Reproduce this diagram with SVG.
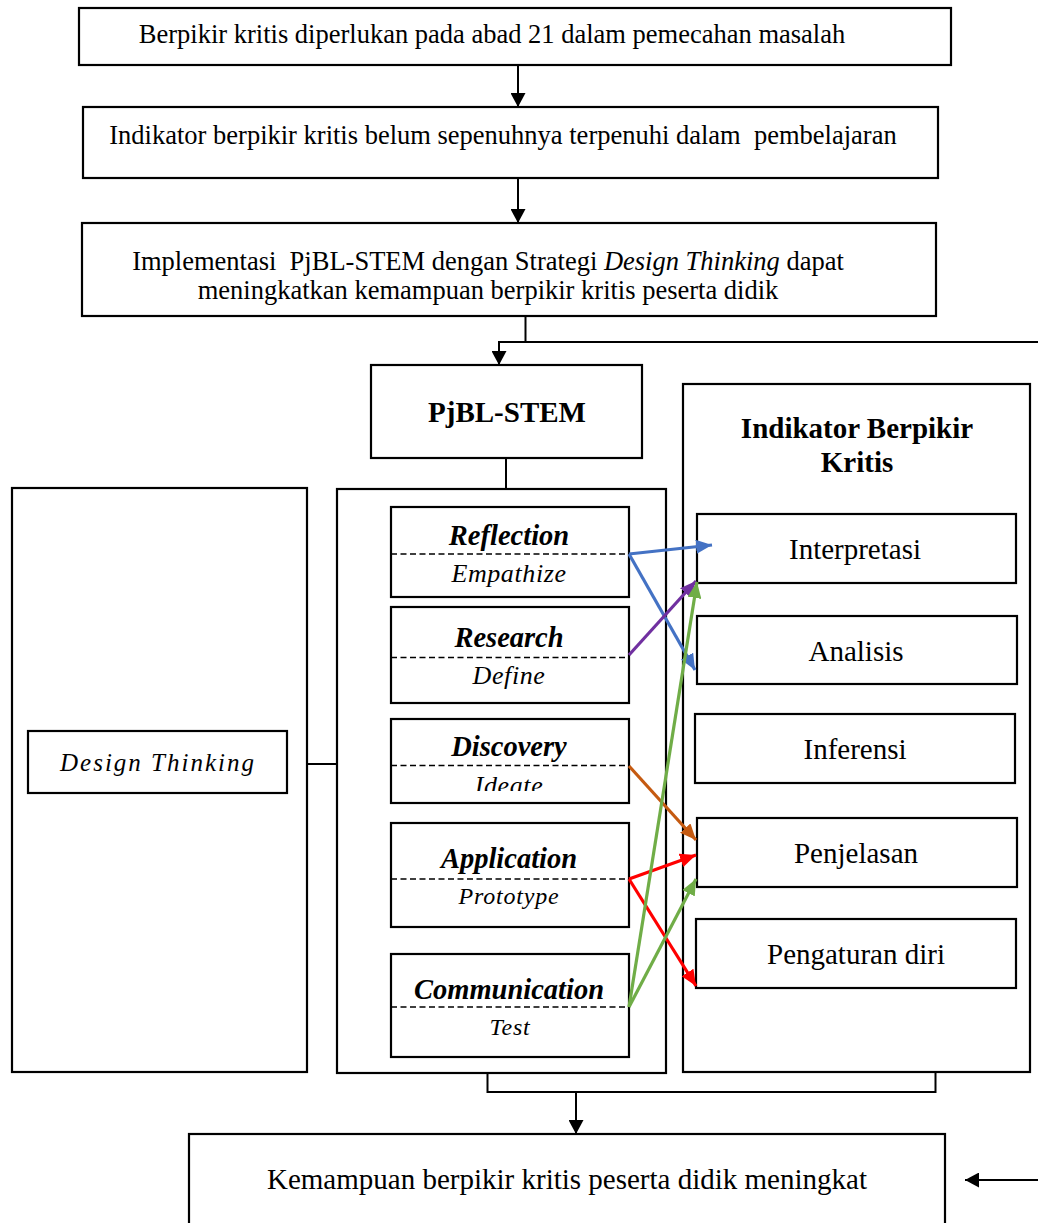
<svg xmlns="http://www.w3.org/2000/svg" width="1038" height="1223" viewBox="0 0 1038 1223">
<style>
.box{fill:#fff;stroke:#000;stroke-width:2.2}
.ln{fill:none;stroke:#000;stroke-width:2}
.dash{fill:none;stroke:#000;stroke-width:1.5;stroke-dasharray:6 3.5}
.t{font-family:"Liberation Serif","Times New Roman",serif;fill:#000}
.top{font-size:26.5px}
.ind{font-size:29px;text-anchor:middle}
.hb{font-size:29px;font-weight:bold;text-anchor:middle}
.bi{font-size:28.5px;font-weight:bold;font-style:italic;text-anchor:middle}
.it{font-size:25.5px;font-style:italic;text-anchor:middle;letter-spacing:0.6px}
.ca{fill:none;stroke-width:3.2}
</style>
<defs>
<marker id="ak" markerUnits="userSpaceOnUse" markerWidth="14" markerHeight="15" refX="14" refY="7.5" orient="auto"><path d="M0,0 L14,7.5 L0,15 z" fill="#000"/></marker>
<marker id="ab" markerUnits="userSpaceOnUse" markerWidth="16" markerHeight="14" refX="16" refY="7" orient="auto"><path d="M0,0 L16,7 L0,14 z" fill="#4472C4"/></marker>
<marker id="ap" markerUnits="userSpaceOnUse" markerWidth="16" markerHeight="14" refX="16" refY="7" orient="auto"><path d="M0,0 L16,7 L0,14 z" fill="#7030A0"/></marker>
<marker id="ag" markerUnits="userSpaceOnUse" markerWidth="16" markerHeight="14" refX="16" refY="7" orient="auto"><path d="M0,0 L16,7 L0,14 z" fill="#70AD47"/></marker>
<marker id="ao" markerUnits="userSpaceOnUse" markerWidth="16" markerHeight="14" refX="16" refY="7" orient="auto"><path d="M0,0 L16,7 L0,14 z" fill="#C55A11"/></marker>
<marker id="ar" markerUnits="userSpaceOnUse" markerWidth="16" markerHeight="14" refX="16" refY="7" orient="auto"><path d="M0,0 L16,7 L0,14 z" fill="#FF0000"/></marker>
<clipPath id="clipIdeate"><rect x="392" y="767" width="236" height="24"/></clipPath>
</defs>

<g id="node-problem">
<rect class="box" x="79" y="8" width="872" height="57"/>
<text class="t top" x="492" y="43" text-anchor="middle">Berpikir kritis diperlukan pada abad 21 dalam pemecahan masalah</text>
</g>
<g id="node-indicator-gap">
<rect class="box" x="83" y="107" width="855" height="71"/>
<text class="t top" x="503" y="144" text-anchor="middle" xml:space="preserve">Indikator berpikir kritis belum sepenuhnya terpenuhi dalam  pembelajaran</text>
</g>
<g id="node-implementation">
<rect class="box" x="82" y="223" width="854" height="93"/>
<text class="t top" x="488" y="270" text-anchor="middle" xml:space="preserve">Implementasi  PjBL-STEM dengan Strategi <tspan font-style="italic">Design Thinking</tspan> dapat</text>
<text class="t top" x="488" y="299" text-anchor="middle">meningkatkan kemampuan berpikir kritis peserta didik</text>
</g>
<g id="node-pjbl">
<rect class="box" x="371" y="365" width="271" height="93"/>
<text class="t hb" x="507" y="422">PjBL-STEM</text>
</g>
<g id="node-design-thinking-panel">
<rect class="box" x="12" y="488" width="295" height="584"/>
</g>
<g id="node-design-thinking">
<rect class="box" x="28" y="731" width="259" height="62"/>
<text class="t it" x="158" y="771" style="font-size:25px;letter-spacing:2px">Design Thinking</text>
</g>
<g id="node-stages-panel">
<rect class="box" x="337" y="489" width="329" height="584"/>
</g>
<g id="node-reflection">
<rect class="box" x="391" y="507" width="238" height="90"/>
<line class="dash" x1="391" y1="554" x2="629" y2="554"/>
<text class="t bi" x="509" y="545">Reflection</text>
<text class="t it" x="509" y="582" style="font-size:26px">Empathize</text>
</g>
<g id="node-research">
<rect class="box" x="391" y="607" width="238" height="96"/>
<line class="dash" x1="391" y1="657.5" x2="629" y2="657.5"/>
<text class="t bi" x="509" y="647">Research</text>
<text class="t it" x="509" y="684" style="font-size:26px">Define</text>
</g>
<g id="node-discovery">
<rect class="box" x="391" y="719" width="238" height="84"/>
<line class="dash" x1="391" y1="765.5" x2="629" y2="765.5"/>
<text class="t bi" x="509" y="756">Discovery</text>
<text class="t it" x="509" y="794" style="font-size:26px" clip-path="url(#clipIdeate)">Ideate</text>
</g>
<g id="node-application">
<rect class="box" x="391" y="823" width="238" height="104"/>
<line class="dash" x1="391" y1="879" x2="629" y2="879"/>
<text class="t bi" x="509" y="868">Application</text>
<text class="t it" x="509" y="904" style="font-size:24px;letter-spacing:0.8px">Prototype</text>
</g>
<g id="node-communication">
<rect class="box" x="391" y="954" width="238" height="103"/>
<line class="dash" x1="391" y1="1007" x2="629" y2="1007"/>
<text class="t bi" x="509" y="999">Communication</text>
<text class="t it" x="510" y="1035" style="font-size:24px;letter-spacing:0.8px">Test</text>
</g>
<g id="node-indicators-panel">
<rect class="box" x="683" y="384" width="347" height="688"/>
<text class="t hb" x="857" y="438">Indikator Berpikir</text>
<text class="t hb" x="857" y="472">Kritis</text>
</g>
<g id="node-interpretasi">
<rect class="box" x="697" y="514" width="319" height="69"/>
<text class="t ind" x="855" y="559">Interpretasi</text>
</g>
<g id="node-analisis">
<rect class="box" x="697" y="616" width="320" height="68"/>
<text class="t ind" x="856" y="661">Analisis</text>
</g>
<g id="node-inferensi">
<rect class="box" x="695" y="714" width="320" height="69"/>
<text class="t ind" x="855" y="759">Inferensi</text>
</g>
<g id="node-penjelasan">
<rect class="box" x="697" y="818" width="320" height="69"/>
<text class="t ind" x="856" y="863">Penjelasan</text>
</g>
<g id="node-pengaturan">
<rect class="box" x="696" y="919" width="320" height="69"/>
<text class="t ind" x="856" y="964">Pengaturan diri</text>
</g>
<g id="node-outcome">
<rect class="box" x="189" y="1134" width="756" height="110"/>
<text class="t" x="567" y="1189" text-anchor="middle" font-size="29">Kemampuan berpikir kritis peserta didik meningkat</text>
</g>

<g id="connectors">
<line class="ln" x1="518" y1="65" x2="518" y2="107" marker-end="url(#ak)"/>
<line class="ln" x1="518" y1="178" x2="518" y2="223" marker-end="url(#ak)"/>
<polyline class="ln" points="525.5,316 525.5,342"/>
<polyline class="ln" points="1040,342 499,342 499,365" marker-end="url(#ak)"/>
<line class="ln" x1="506" y1="458" x2="506" y2="489"/>
<line class="ln" x1="307" y1="764" x2="337" y2="764"/>
<polyline class="ln" points="487.5,1073 487.5,1092 935.5,1092 935.5,1072"/>
<line class="ln" x1="576" y1="1092" x2="576" y2="1134" marker-end="url(#ak)"/>
<line class="ln" x1="1040" y1="1180" x2="965" y2="1180" marker-end="url(#ak)"/>

<line class="ca" stroke="#4472C4" x1="629" y1="554" x2="712" y2="545" marker-end="url(#ab)"/>
<line class="ca" stroke="#4472C4" x1="629" y1="554" x2="695" y2="670" marker-end="url(#ab)"/>
<line class="ca" stroke="#7030A0" x1="629" y1="655" x2="696" y2="581" marker-end="url(#ap)"/>
<line class="ca" stroke="#C55A11" x1="629" y1="766" x2="696" y2="840" marker-end="url(#ao)"/>
<line class="ca" stroke="#FF0000" x1="629" y1="879" x2="696" y2="855" marker-end="url(#ar)"/>
<line class="ca" stroke="#FF0000" x1="629" y1="879" x2="696" y2="986" marker-end="url(#ar)"/>
<line class="ca" stroke="#70AD47" x1="629" y1="1007" x2="697" y2="582" marker-end="url(#ag)"/>
<line class="ca" stroke="#70AD47" x1="629" y1="1007" x2="696" y2="879" marker-end="url(#ag)"/>
</g>
</svg>
